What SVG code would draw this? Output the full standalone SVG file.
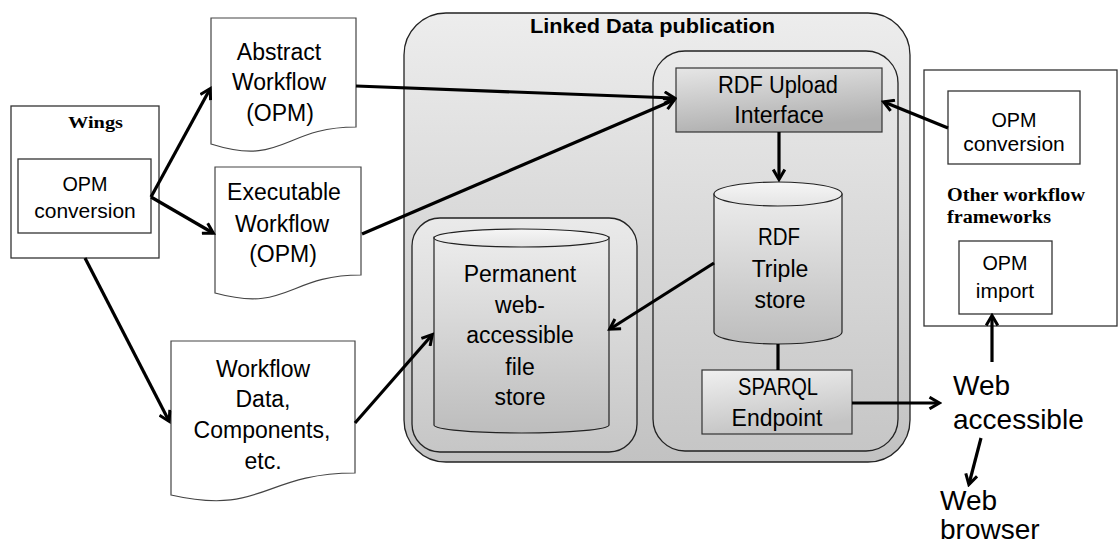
<svg xmlns="http://www.w3.org/2000/svg" width="1120" height="548" viewBox="0 0 1120 548">
  <defs>
    <linearGradient id="gOuter" x1="0" y1="0" x2="0" y2="1">
      <stop offset="0" stop-color="#ededed"/>
      <stop offset="1" stop-color="#c2c2c2"/>
    </linearGradient>
    <linearGradient id="gInner" x1="0" y1="0" x2="0" y2="1">
      <stop offset="0" stop-color="#eaeaea"/>
      <stop offset="1" stop-color="#c6c6c6"/>
    </linearGradient>
    <linearGradient id="gCyl" x1="0" y1="0" x2="0" y2="1">
      <stop offset="0" stop-color="#ececec"/>
      <stop offset="1" stop-color="#bdbdbd"/>
    </linearGradient>
    <linearGradient id="gCylTop" x1="0" y1="0" x2="0" y2="1">
      <stop offset="0" stop-color="#f6f6f6"/>
      <stop offset="1" stop-color="#e4e4e4"/>
    </linearGradient>
    <linearGradient id="gUpload" x1="0" y1="0" x2="0.3" y2="1">
      <stop offset="0" stop-color="#e6e6e6"/>
      <stop offset="1" stop-color="#b0b0b0"/>
    </linearGradient>
    <linearGradient id="gSparql" x1="0" y1="0" x2="0.3" y2="1">
      <stop offset="0" stop-color="#f0f0f0"/>
      <stop offset="1" stop-color="#c4c4c4"/>
    </linearGradient>
    <marker id="arrow" viewBox="0 0 14 14" markerWidth="14" markerHeight="14" refX="11" refY="7" orient="auto" markerUnits="userSpaceOnUse">
      <path d="M1.5,1.2 L11.5,7 L1.5,12.8" fill="none" stroke="#000" stroke-width="3" stroke-linejoin="miter"/>
    </marker>
    <style>
      .box { fill: #fff; stroke: #333; stroke-width: 1.3; }
      .doc { fill: #fff; stroke: #444; stroke-width: 1.2; }
      .grp { stroke: #222; stroke-width: 1.3; }
      .t { font-family: "Liberation Sans", Arial, sans-serif; font-size: 23px; fill: #000; text-anchor: middle; }
      .s { font-size: 21px; }
      .big { font-family: "Liberation Sans", Arial, sans-serif; font-size: 28px; fill: #000; }
      .title { font-family: "Liberation Sans", Arial, sans-serif; font-size: 21px; font-weight: bold; fill: #000; }
      .serif { font-family: "Liberation Serif", "Times New Roman", serif; font-weight: bold; fill: #000; }
      .con { fill: none; stroke: #000; stroke-width: 3.2; }
      .arr { marker-end: url(#arrow); }
    </style>
  </defs>

  <!-- Linked Data publication container -->
  <g id="linked-data-publication">
    <rect x="404" y="13" width="506" height="449" rx="42" ry="42" fill="url(#gOuter)" class="grp"/>
    <text class="title" x="530" y="33" textLength="245" lengthAdjust="spacingAndGlyphs">Linked Data publication</text>
  </g>

  <!-- File store group -->
  <g id="file-store-group">
    <rect x="412" y="218" width="225" height="234" rx="28" ry="28" fill="url(#gInner)" class="grp"/>
  </g>
  <g id="file-store">
    <path d="M434,237 V425 A87.5,8 0 0 0 609,425 V237 Z" fill="url(#gCyl)" stroke="#222" stroke-width="1.2"/>
    <ellipse cx="521.5" cy="238" rx="87.5" ry="9" fill="url(#gCylTop)" stroke="#222" stroke-width="1.2"/>
    <text class="t" x="520" y="282">Permanent</text>
    <text class="t" x="520" y="313">web-</text>
    <text class="t" x="520" y="343">accessible</text>
    <text class="t" x="520" y="375">file</text>
    <text class="t" x="520" y="405">store</text>
  </g>

  <!-- RDF group -->
  <g id="rdf-group">
    <rect x="653" y="51" width="245" height="400" rx="32" ry="32" fill="url(#gInner)" class="grp"/>
  </g>
  <g id="rdf-upload">
    <rect x="676" y="68" width="206" height="64" fill="url(#gUpload)" stroke="#333" stroke-width="1.2"/>
    <text class="t" x="778" y="93" textLength="120" lengthAdjust="spacingAndGlyphs">RDF Upload</text>
    <text class="t" x="779" y="123">Interface</text>
  </g>
  <g id="triple-store">
    <path d="M714,194 V332 A64,12 0 0 0 842,332 V194 Z" fill="url(#gCyl)" stroke="#222" stroke-width="1.2"/>
    <ellipse cx="778" cy="194" rx="64" ry="12" fill="url(#gCylTop)" stroke="#222" stroke-width="1.2"/>
    <text class="t" x="779" y="245" textLength="42" lengthAdjust="spacingAndGlyphs">RDF</text>
    <text class="t" x="780" y="277">Triple</text>
    <text class="t" x="780" y="308">store</text>
  </g>
  <g id="sparql-endpoint">
    <rect x="702" y="370" width="150" height="64" fill="url(#gSparql)" stroke="#333" stroke-width="1.2"/>
    <text class="t" x="778" y="395" textLength="80" lengthAdjust="spacingAndGlyphs">SPARQL</text>
    <text class="t" x="777" y="426">Endpoint</text>
  </g>

  <!-- Wings -->
  <g id="wings">
    <rect x="11" y="106" width="148" height="152" class="box"/>
    <text class="serif" x="68" y="128" font-size="17" textLength="55" lengthAdjust="spacingAndGlyphs">Wings</text>
  </g>
  <g id="wings-opm-conversion">
    <rect x="18" y="159" width="133" height="74" class="box"/>
    <text class="t s" x="85" y="191" textLength="45" lengthAdjust="spacingAndGlyphs">OPM</text>
    <text class="t s" x="85" y="218">conversion</text>
  </g>

  <!-- Documents -->
  <g id="abstract-workflow">
    <path class="doc" d="M211,18 H356 V127 C283.5,127 283.5,167 211,144 Z"/>
    <text class="t" x="279" y="60">Abstract</text>
    <text class="t" x="279" y="90">Workflow</text>
    <text class="t" x="280" y="121">(OPM)</text>
  </g>
  <g id="executable-workflow">
    <path class="doc" d="M215,167 H361 V275 C288,275 288,313 215,293 Z"/>
    <text class="t" x="284" y="200">Executable</text>
    <text class="t" x="282" y="232">Workflow</text>
    <text class="t" x="283" y="262">(OPM)</text>
  </g>
  <g id="workflow-data">
    <path class="doc" d="M171,341 H355 V473 C263,473 263,516 171,495 Z"/>
    <text class="t" x="263" y="377">Workflow</text>
    <text class="t" x="263" y="407">Data,</text>
    <text class="t" x="262" y="438">Components,</text>
    <text class="t" x="263" y="469">etc.</text>
  </g>

  <!-- Other workflow frameworks -->
  <g id="other-frameworks">
    <rect x="924" y="70" width="193" height="256" class="box"/>
    <text class="serif" x="947" y="201" font-size="18" textLength="138" lengthAdjust="spacingAndGlyphs">Other workflow</text>
    <text class="serif" x="947" y="223" font-size="18" textLength="104" lengthAdjust="spacingAndGlyphs">frameworks</text>
  </g>
  <g id="other-opm-conversion">
    <rect x="948" y="91" width="132" height="73" class="box"/>
    <text class="t s" x="1014" y="127" textLength="45" lengthAdjust="spacingAndGlyphs">OPM</text>
    <text class="t s" x="1014" y="151">conversion</text>
  </g>
  <g id="opm-import">
    <rect x="959" y="241" width="93" height="73" class="box"/>
    <text class="t s" x="1005" y="270" textLength="45" lengthAdjust="spacingAndGlyphs">OPM</text>
    <text class="t s" x="1005" y="298">import</text>
  </g>

  <!-- Web endpoints -->
  <g id="web-accessible">
    <text class="big" x="953" y="395">Web</text>
    <text class="big" x="953" y="429">accessible</text>
  </g>
  <g id="web-browser">
    <text class="big" x="940" y="510">Web</text>
    <text class="big" x="940" y="539">browser</text>
  </g>

  <!-- Connectors -->
  <g id="connectors">
    <line class="con arr" x1="151" y1="197" x2="210" y2="89"/>
    <line class="con arr" x1="151" y1="197" x2="213" y2="233"/>
    <line class="con arr" x1="85" y1="258" x2="169" y2="421"/>
    <line class="con arr" x1="356" y1="86" x2="674" y2="98"/>
    <line class="con arr" x1="362" y1="234" x2="674" y2="100"/>
    <line class="con arr" x1="355" y1="423" x2="432" y2="335"/>
    <line class="con arr" x1="714" y1="263" x2="610" y2="329"/>
    <line class="con arr" x1="779" y1="132" x2="779" y2="179"/>
    <line class="con" x1="778" y1="344" x2="778" y2="370"/>
    <line class="con arr" x1="852" y1="403" x2="939" y2="403"/>
    <line class="con arr" x1="948" y1="128" x2="884" y2="102"/>
    <line class="con arr" x1="992" y1="362" x2="992" y2="316"/>
    <line class="con arr" x1="981" y1="438" x2="969" y2="484"/>
  </g>
</svg>
